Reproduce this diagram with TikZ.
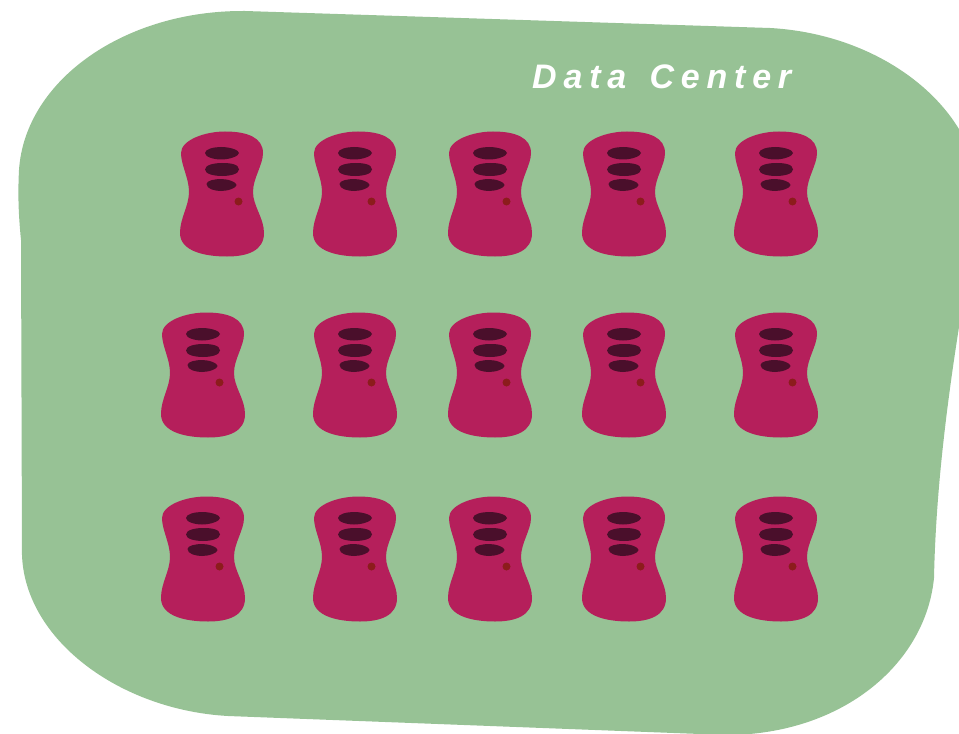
\documentclass[tikz,border=0pt]{standalone}
\usepackage{fontspec}
\setmainfont{Liberation Sans}
\definecolor{bloboff}{HTML}{97C295}
\definecolor{srvbody}{HTML}{B51F5B}
\definecolor{srvslot}{HTML}{4A0F2B}
\definecolor{srvled}{HTML}{8C1C1C}
\tikzset{
  srv/.pic={
    \fill[srvbody] (3,-62.5) .. controls (26,-62.5) and (41,-56) .. (41,-41)
      .. controls (41,-29) and (31,-16) .. (31,-2)
      .. controls (31,12) and (42,24) .. (42,39)
      .. controls (42,57) and (25,62.5) .. (5,62.5)
      .. controls (-18,62.5) and (-42,57) .. (-42,39)
      .. controls (-42,24) and (-33,12) .. (-33,-2)
      .. controls (-33,-16) and (-41,-29) .. (-41,-41)
      .. controls (-41,-54) and (-17,-62.5) .. (3,-62.5) -- cycle;
    \fill[srvslot] (-17,-41) .. controls (-17,-45) and (-8,-47) .. (-1,-47)
      .. controls (8,-47) and (17,-44) .. (17,-41)
      .. controls (17,-38) and (8,-34.5) .. (-1,-34.5)
      .. controls (-8,-34.5) and (-17,-37) .. (-17,-41) -- cycle;
    \fill[srvslot] (-17,-24.5) .. controls (-17,-29) and (-8,-31) .. (0,-31)
      .. controls (8,-31) and (17,-30) .. (17,-24.5)
      .. controls (17,-20) and (8,-18) .. (0,-18)
      .. controls (-8,-18) and (-17,-20) .. (-17,-24.5) -- cycle;
    \fill[srvslot] (-15.5,-10) .. controls (-15.5,-13.5) and (-7,-15) .. (-1,-15)
      .. controls (6,-15) and (14.5,-12) .. (14.5,-9)
      .. controls (14.5,-6) and (6,-3) .. (-1,-3)
      .. controls (-7,-3) and (-15.5,-5) .. (-15.5,-10) -- cycle;
    \fill[srvled] (16.5,7.5) circle (4);
  }
}
\begin{document}
\begin{tikzpicture}[x=1bp,y=-1bp]
\useasboundingbox (0,0) rectangle (959,734);
\begin{scope}
\clip (0,0) rectangle (959,734);
\fill[bloboff] (245,11) -- (770,28)
  .. controls (860,33) and (935,80) .. (965,140)
  -- (965,290)
  .. controls (950,380) and (936,480) .. (934,578)
  .. controls (925,670) and (830,745) .. (700,734)
  -- (228,716)
  .. controls (120,710) and (25,640) .. (22,555)
  -- (21,240)
  .. controls (18,210) and (18,190) .. (19,170)
  .. controls (25,80) and (125,10) .. (245,11) -- cycle;
\end{scope}
\node[text=white,anchor=base west,inner sep=0pt] (title) at (532,89)
  {\fontsize{34bp}{38bp}\fontspec{Liberation Sans}[LetterSpace=20,WordSpace=1.43,BoldFont={Liberation Sans Bold Italic}]\bfseries Data Center};
\foreach \cx in {355,490,624,776} \foreach \cy in {194,375,559}
  \pic at (\cx,\cy) {srv};
\pic at (222,194) {srv};
\pic at (203,375) {srv};
\pic at (203,559) {srv};
\end{tikzpicture}
\end{document}
